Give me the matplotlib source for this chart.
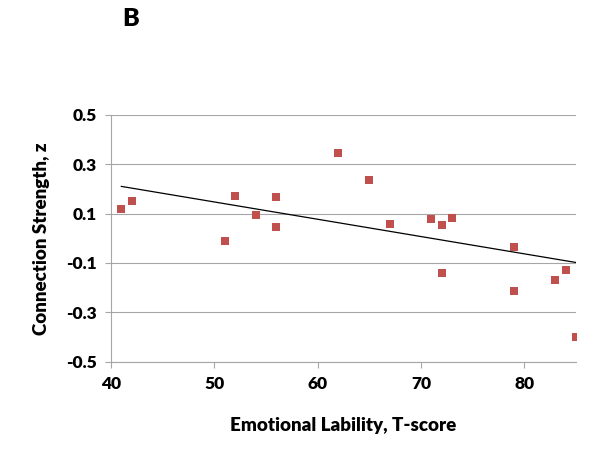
import matplotlib
matplotlib.use('Agg')
import matplotlib.pyplot as plt
import numpy as np

# Emotional lability T-score vs connection strength (z)
t_score = [41, 42, 51, 52, 54, 56, 56, 62, 65, 67, 71, 72, 73, 72, 79, 79, 83, 84, 85]
strength = [0.118, 0.151, -0.011, 0.171, 0.093, 0.168, 0.045, 0.344, 0.234, 0.056,
            0.079, 0.052, 0.083, -0.142, -0.036, -0.215, -0.167, -0.129, -0.401]

# trend line as drawn in the figure
trend_slope = -0.0070
trend_intercept = 0.497

x_ticks = [40, 50, 60, 70, 80]
y_ticks = [-0.5, -0.3, -0.1, 0.1, 0.3, 0.5]

plt.rcParams['font.family'] = ['Lato', 'DejaVu Sans']

fig = plt.figure(figsize=(6, 4.5), dpi=100)
ax = fig.add_axes([0.185, 0.196, 0.775, 0.549])

ax.scatter(t_score, strength, marker='s', s=40, color='#C0504D', zorder=3, linewidths=0)

xs = np.array([min(t_score), max(t_score)])
ax.plot(xs, trend_slope * xs + trend_intercept, color='black', linewidth=0.9, zorder=2)

ax.set_xlim(40, 85)
ax.set_ylim(-0.5, 0.5)
ax.set_xticks(x_ticks)
ax.set_yticks(y_ticks)
ax.set_yticklabels([f'{v:.1f}' for v in y_ticks])
ax.yaxis.grid(True, color='#A6A6A6', linewidth=0.8)
ax.set_axisbelow(True)

for side in ['top', 'right']:
    ax.spines[side].set_visible(False)
for side in ['left', 'bottom']:
    ax.spines[side].set_color('#A6A6A6')
    ax.spines[side].set_linewidth(0.8)

ax.tick_params(axis='both', direction='out', length=4, color='#A6A6A6',
               labelsize=12.5, pad=6)
for lbl in ax.get_xticklabels() + ax.get_yticklabels():
    lbl.set_fontweight('heavy')

ax.set_xlabel('Emotional Lability, T-score', fontsize=13.5, fontweight='heavy', labelpad=18)
ax.set_ylabel('Connection Strength, z', fontsize=13.5, fontweight='heavy', labelpad=12)

fig.text(0.218, 0.957, 'B', fontsize=18, fontweight='heavy', ha='center', va='center')

fig.savefig('out.png', dpi=100)
